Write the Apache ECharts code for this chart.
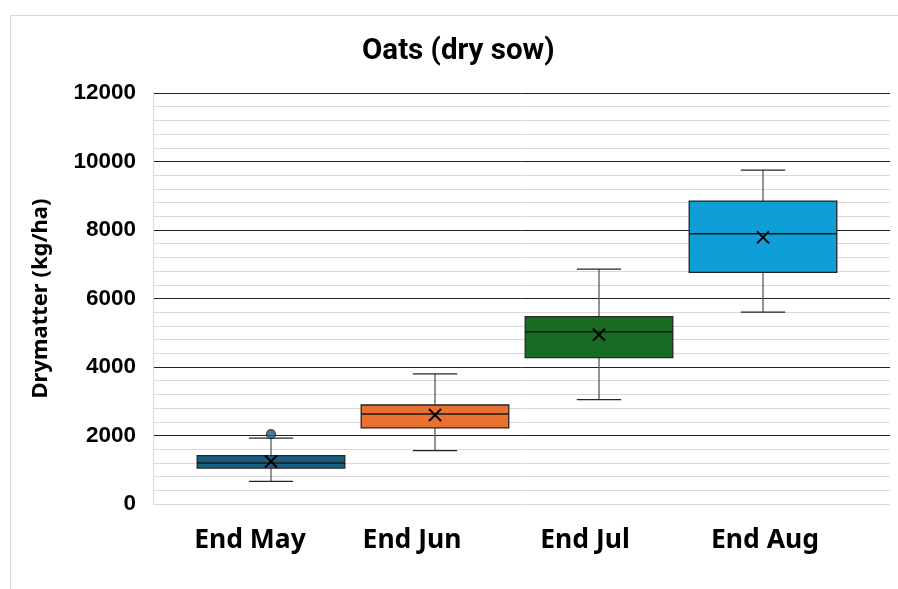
<!DOCTYPE html>
<html>
<head>
<meta charset="utf-8">
<script src="https://cdn.jsdelivr.net/npm/echarts@6/dist/echarts.min.js"></script>
<style>
  html, body { margin: 0; padding: 0; background: #fff; }
  #chart { width: 898px; height: 589px; }
</style>
</head>
<body>
<div id="chart"></div>
<script>
// box stats (kg/ha)
var categories = ['End May', 'End Jun', 'End Jul', 'End Aug'];
var whiskerLow = [660, 1560, 3050, 5600];
var quartile1 = [1050, 2220, 4275, 6765];
var medians = [1195, 2625, 5030, 7890];
var quartile3 = [1410, 2890, 5470, 8845];
var whiskerHigh = [1925, 3800, 6860, 9750];
var means = [1240, 2600, 4940, 7785];
var outliers = [[0, 2040]];
var boxColors = ['#156082', '#E97132', '#196B24', '#0F9ED5'];
// the category labels sit a bit off the box centres in the original
var labelShift = [-21, -23, -14, 2];

var boxData = categories.map(function (c, i) {
    return [i, whiskerLow[i], quartile1[i], medians[i], quartile3[i], whiskerHigh[i], means[i]];
});

function renderBox(params, api) {
    var i = api.value(0);
    var band = api.size([1, 0])[0];
    var half = band * 0.45;
    var cap = band * 0.135;
    var lo = api.coord([i, api.value(1)]);
    var q1 = api.coord([i, api.value(2)]);
    var md = api.coord([i, api.value(3)]);
    var q3 = api.coord([i, api.value(4)]);
    var hi = api.coord([i, api.value(5)]);
    var mn = api.coord([i, api.value(6)]);
    var x = lo[0];
    var m = 6;
    var whisker = { stroke: '#595959', lineWidth: 1.3 };
    var dark = { stroke: '#262626', lineWidth: 1.3 };
    return {
        type: 'group',
        children: [
            { type: 'line', shape: { x1: x, y1: hi[1], x2: x, y2: q3[1] }, style: whisker },
            { type: 'line', shape: { x1: x, y1: q1[1], x2: x, y2: lo[1] }, style: whisker },
            { type: 'line', shape: { x1: x - cap, y1: hi[1], x2: x + cap, y2: hi[1] }, style: dark },
            { type: 'line', shape: { x1: x - cap, y1: lo[1], x2: x + cap, y2: lo[1] }, style: dark },
            { type: 'rect', shape: { x: x - half, y: q3[1], width: half * 2, height: q1[1] - q3[1] },
              style: { fill: boxColors[params.dataIndex], stroke: '#262626', lineWidth: 1.3 } },
            { type: 'line', shape: { x1: x - half, y1: md[1], x2: x + half, y2: md[1] },
              style: { stroke: '#1a1a1a', lineWidth: 1.5 } },
            { type: 'line', shape: { x1: x - m, y1: mn[1] - m, x2: x + m, y2: mn[1] + m },
              style: { stroke: '#000', lineWidth: 2 } },
            { type: 'line', shape: { x1: x - m, y1: mn[1] + m, x2: x + m, y2: mn[1] - m },
              style: { stroke: '#000', lineWidth: 2 } }
        ]
    };
}

var catRich = {};
labelShift.forEach(function (s, i) {
    catRich['c' + i] = {
        fontFamily: 'Noto Sans', fontWeight: 'bold', fontSize: 26.5, color: '#000',
        padding: s < 0 ? [0, -2 * s, 0, 0] : [0, 0, 0, 2 * s]
    };
});

var chart = echarts.init(document.getElementById('chart'));

chart.setOption({
    animation: false,
    title: {
        text: 'Oats (dry sow)',
        left: 357,
        top: 32,
        textStyle: { fontFamily: 'Roboto', fontWeight: 'bold', fontSize: 29.5, color: '#000' }
    },
    graphic: [{
        type: 'rect',
        shape: { x: 10.5, y: 15.5, width: 900, height: 600 },
        style: { fill: null, stroke: '#d9d9d9', lineWidth: 1 },
        silent: true
    }],
    grid: [
        { left: 153, right: 8, top: 93, height: 411 },
        { left: 189, width: 656, top: 93, height: 411 }
    ],
    xAxis: [
        { gridIndex: 0, type: 'value', show: false },
        {
            gridIndex: 1, type: 'category', data: categories,
            axisLine: { show: false }, axisTick: { show: false },
            axisLabel: {
                margin: 23,
                formatter: function (v, i) { return '{c' + i + '|' + v + '}'; },
                rich: catRich
            }
        }
    ],
    yAxis: [
        {
            gridIndex: 0, type: 'value', min: 0, max: 12000, interval: 2000,
            name: 'Drymatter (kg/ha)', nameLocation: 'middle', nameGap: 101,
            nameTextStyle: { fontFamily: 'Noto Sans', fontWeight: 'bold', fontSize: 22, color: '#000' },
            axisLine: { show: true, lineStyle: { color: '#d9d9d9' } },
            axisTick: { show: false },
            axisLabel: {
                margin: 17, fontFamily: 'Liberation Sans', fontWeight: 'bold', fontSize: 22.5, color: '#000',
                formatter: function (v) { return String(v); }
            },
            splitLine: { lineStyle: { color: ['#d9d9d9', '#222', '#222', '#222', '#222', '#222', '#222'], width: 1 } },
            minorTick: { show: false, splitNumber: 5 },
            minorSplitLine: { show: true, lineStyle: { color: '#d9d9d9', width: 1 } }
        },
        { gridIndex: 1, type: 'value', min: 0, max: 12000, show: false }
    ],
    series: [
        {
            type: 'custom',
            xAxisIndex: 1, yAxisIndex: 1,
            renderItem: renderBox,
            encode: { x: 0, y: [1, 2, 3, 4, 5, 6] },
            data: boxData,
            z: 3
        },
        {
            type: 'scatter',
            xAxisIndex: 1, yAxisIndex: 1,
            data: outliers,
            symbolSize: 9,
            itemStyle: { color: boxColors[0], borderColor: '#262626', borderWidth: 1.2 },
            z: 4
        }
    ]
});
</script>
</body>
</html>
